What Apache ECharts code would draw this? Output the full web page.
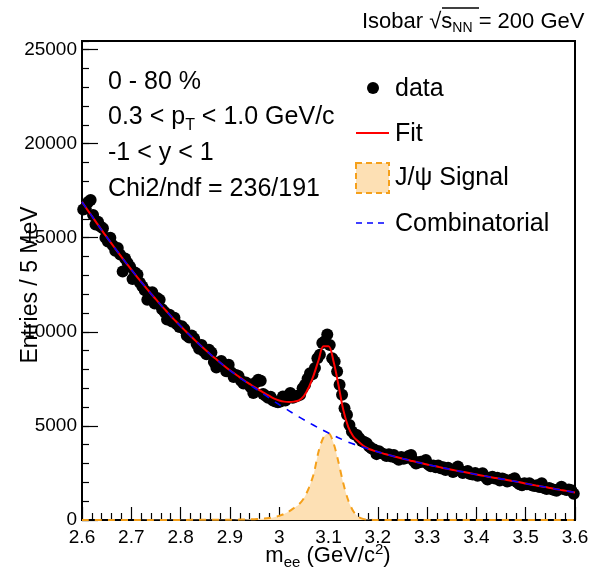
<!DOCTYPE html>
<html><head><meta charset="utf-8">
<script src="https://cdn.jsdelivr.net/npm/echarts@6/dist/echarts.min.js"></script>
<style>html,body{margin:0;padding:0;background:#fff}#c{width:594px;height:578px}</style>
</head><body><div id="c"></div>
<script>
// ---- data ----
const massMin = 2.6, massMax = 3.6, binWidth = 0.005;
const yMax = 25450;
const dataCounts = [
16500,16550,16900,17000,16200,15700,15850,15600,15500,15000,
14800,15000,14600,14300,14450,14100,13200,13900,13650,13450,
12800,13150,13050,12600,12400,12200,11700,11950,12100,11500,
11800,11700,11200,11050,10650,10900,10550,10750,10400,10250,
10300,10150,9800,9700,9800,9650,9350,9100,9300,8950,
8800,9050,8900,8400,8100,8300,8450,8150,7900,8250,
7850,7600,7700,7650,7400,7250,7300,7200,7050,6750,
7300,7450,7400,6700,6600,6500,6550,6350,6300,6250,
6300,6560,6350,6600,6750,6500,6550,6600,6650,7000,
7180,7500,7800,7750,8070,8600,8780,9400,9500,9850,
9300,8600,8420,7890,7180,6650,5940,5590,5050,4700,
4550,4520,4350,4200,4150,4080,3900,3800,3750,3500,
3650,3550,3500,3400,3500,3380,3450,3300,3200,3350,
3250,3300,3400,3460,3150,3000,3050,3100,3100,3190,
2950,2850,2900,2800,2900,2750,2800,2650,2780,2700,
2550,2650,2840,2600,2500,2550,2600,2450,2420,2500,
2350,2400,2480,2300,2150,2250,2300,2200,2250,2100,
2200,2150,2050,2100,2150,2220,2000,1900,1850,1950,
1900,1950,1850,1800,1850,1750,1950,1700,1650,1700,
1650,1600,1550,1650,1770,1650,1600,1620,1580,1400];

const fitStart = 2.60, fitStep = 0.01;
const fitVals = [
16900,16520,16150,15770,15400,15040,14680,14330,13980,13640,
13300,12970,12650,12330,12020,11720,11420,11130,10840,10570,
10300,10040,9780,9530,9280,9040,8810,8590,8370,8160,
7960,7770,7580,7400,7230,7060,6900,6740,6590,6450,
6350,6290,6270,6290,6360,6580,7050,7700,8500,9230,
9230,8450,7200,5850,4950,4450,4180,3960,3800,3700,
3620,3540,3470,3400,3330,3260,3200,3130,3070,3010,
2950,2890,2840,2780,2730,2670,2620,2570,2520,2470,
2420,2370,2320,2270,2230,2180,2140,2090,2050,1990,
1940,1890,1840,1790,1750,1700,1650,1600,1560,1510,
1460];

const bgStart = 2.60, bgStep = 0.02;
const bgVals = [
16900,16150,15400,14680,13980,13300,12650,12020,11420,10840,
10300,9780,9280,8810,8370,7950,7560,7190,6840,6480,
6130,5800,5480,5180,4890,4620,4370,4140,3950,3780,
3620,3470,3330,3200,3070,2950,2840,2730,2620,2520,
2420,2320,2230,2140,2050,1940,1840,1750,1650,1560,
1460];

const sigStart = 2.90, sigStep = 0.01;
const sigVals = [10,15,20,25,35,45,60,80,110,150,220,320,460,640,830,1150,1700,2450,3650,4400,4610,4100,3100,1950,1050,480,180,60,20,5,0];

const infoLines = ['0 - 80 %', '0.3 < p{sub|T} < 1.0 GeV/c', '-1 < y < 1', 'Chi2/ndf = 236/191'];
const legendLabels = ['data', 'Fit', 'J/\u03C8 Signal', 'Combinatorial'];

// ---- build ----
const FONT = '"Liberation Sans", Arial, Helvetica, sans-serif';
const r3 = v => Math.round(v * 10000) / 10000;
const dataPts = dataCounts.map((v, i) => [r3(massMin + binWidth * (i + 0.5)), v]);
const fitPts = fitVals.map((v, i) => [r3(fitStart + fitStep * i), v]);
const bgPts = bgVals.map((v, i) => [r3(bgStart + bgStep * i), v]);
const sigPts = [[massMin, 0]].concat(sigVals.map((v, i) => [r3(sigStart + sigStep * i), v])).concat([[massMax, 0]]);

const chart = echarts.init(document.getElementById('c'), null, {renderer: 'canvas'});
const tickStyle = {color: '#000', width: 1.2};
const option = {
  animation: false,
  backgroundColor: '#fff',
  grid: {left: 82, right: 19, top: 41, bottom: 58, show: true, borderColor: '#000', borderWidth: 2, backgroundColor: 'transparent'},
  xAxis: {
    type: 'value', min: massMin, max: massMax, interval: 0.1,
    axisLine: {show: true, onZero: false, lineStyle: {color: '#000', width: 2}},
    axisTick: {show: true, inside: true, length: 13, lineStyle: tickStyle},
    minorTick: {show: true, splitNumber: 5, length: 7, lineStyle: tickStyle},
    splitLine: {show: false},
    axisLabel: {color: '#000', fontSize: 19, fontFamily: FONT, margin: 8,
      formatter: v => String(+(+v).toFixed(1))}
  },
  yAxis: [{
    type: 'value', min: 0, max: yMax, interval: 5000,
    axisLine: {show: true, lineStyle: {color: '#000', width: 2}},
    axisTick: {show: true, inside: true, length: 16, lineStyle: tickStyle},
    splitLine: {show: false},
    axisLabel: {color: '#000', fontSize: 19, fontFamily: FONT, margin: 5, showMaxLabel: false,
      formatter: v => (v % 5000 === 0 ? String(v) : '')}
  }, {
    type: 'value', min: 0, max: yMax, interval: 1000, position: 'left',
    axisLine: {show: false},
    axisTick: {show: true, inside: true, length: 7, lineStyle: tickStyle},
    splitLine: {show: false},
    axisLabel: {show: false}
  }],
  series: [
    {type: 'line', name: 'J/psi Signal', data: sigPts, smooth: 0.3, symbol: 'none', z: 3,
      lineStyle: {color: '#f5a01a', width: 2, type: [7, 6]},
      areaStyle: {color: '#fde0b4', opacity: 1}},
    {type: 'scatter', name: 'data', data: dataPts, symbol: 'circle', symbolSize: 12, z: 4,
      itemStyle: {color: '#000', opacity: 1}},
    {type: 'line', name: 'Fit', data: fitPts, smooth: 0.35, symbol: 'none', z: 5,
      lineStyle: {color: '#ff0000', width: 2}},
    {type: 'line', name: 'Combinatorial', data: bgPts, smooth: 0.3, symbol: 'none', z: 6,
      lineStyle: {color: '#0000ff', width: 1.6, type: [7, 7]}}
  ],
  graphic: []
};

const g = option.graphic;
const txt = (x, y, text, size, extra) => g.push(Object.assign({type: 'text', z: 100,
  style: Object.assign({x, y, text, fill: '#000', font: size + 'px ' + FONT, textVerticalAlign: 'middle'}, extra || {})}));
// info lines
const infoY = [82, 117, 153, 189];
infoLines.forEach((t, i) => txt(108, infoY[i], t, 25, {rich: {
  sub: {fontSize: 16, fontFamily: FONT, padding: [18, 0, 0, 0], verticalAlign: 'middle'}}}));
// legend
g.push({type: 'circle', z: 100, shape: {cx: 373, cy: 88, r: 6}, style: {fill: '#000'}});
g.push({type: 'line', z: 100, shape: {x1: 356, y1: 133, x2: 389, y2: 133}, style: {stroke: '#ff0000', lineWidth: 2}});
g.push({type: 'rect', z: 100, shape: {x: 356, y: 163, width: 33, height: 30}, style: {fill: '#fde0b4', stroke: '#f5a01a', lineWidth: 2, lineDash: [6, 4]}});
g.push({type: 'line', z: 100, shape: {x1: 356, y1: 223, x2: 389, y2: 223}, style: {stroke: '#0000ff', lineWidth: 1.6, lineDash: [6, 5]}});
const legY = [89, 134, 178, 224];
legendLabels.forEach((t, i) => txt(395, legY[i], t, 25));
// top label
txt(362, 22, 'Isobar \u221A{s|s}{sub|NN} = 200 GeV', 22, {rich: {
  s: {fontSize: 22, fontFamily: FONT},
  sub: {fontSize: 14, fontFamily: FONT, padding: [12, 0, 0, 0]}}});
g.push({type: 'line', z: 100, shape: {x1: 442, y1: 8, x2: 479, y2: 8}, style: {stroke: '#000', lineWidth: 1.5}});
// axis titles
txt(328, 556, 'm{sub|ee} (GeV/c{sup|2})', 22, {textAlign: 'center', rich: {
  sub: {fontSize: 15, fontFamily: FONT, padding: [14, 0, 0, 0]},
  sup: {fontSize: 15, fontFamily: FONT, padding: [0, 0, 12, 0]}}});
g.push({type: 'text', z: 100, x: 31, y: 285, rotation: Math.PI / 2,
  style: {x: 0, y: 0, text: 'Entries / 5 MeV', fill: '#000', font: '23px ' + FONT, textAlign: 'center', textVerticalAlign: 'middle'}});

chart.setOption(option);
</script></body></html>
